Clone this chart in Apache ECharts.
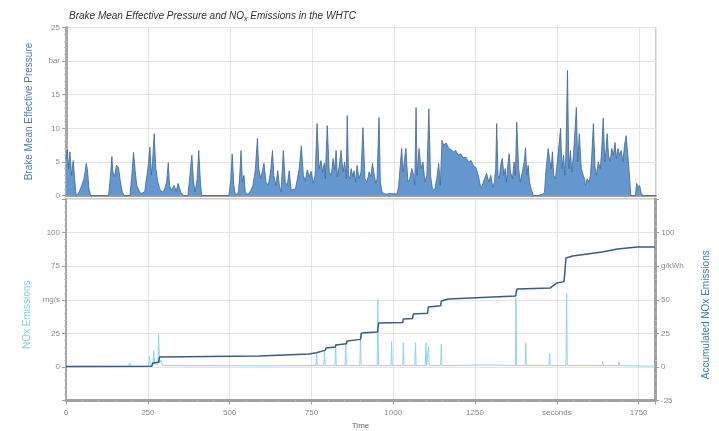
<!DOCTYPE html>
<html><head><meta charset="utf-8">
<script src="https://cdn.jsdelivr.net/npm/echarts@6/dist/echarts.min.js"></script>
<style>html,body{margin:0;padding:0;background:#fff}#c{width:719px;height:431px}</style>
</head><body><div id="c"></div>
<script>
// Brake Mean Effective Pressure (bar) vs time (s)
const bmepTime = [0,4,8,12,17,22,27,31,40,48,55,62,66,70,75,
  130,134,140,143,148,154,160,166,172,178,
  195,200,206,211,216,222,228,
  240,247,252,256,260,264,269,274,280,286,293,
  300,307,312,316,322,330,336,342,350,358,
  372,378,384,389,394,400,405,410,414,
  497,503,507,512,517,526,530,534,538,543,547,553,556,
  562,570,577,584,588,594,600,604,610,617,624,630,634,640,646,651,656,
  663,669,675,681,687,700,706,712,718,724,730,736,742,748,754,
  760,766,772,778,783,788,791,797,803,
  809,815,820,824,828,834,839,845,850,855,858,862,
  866,870,875,879,884,888,894,900,906,912,
  918,925,930,935,940,945,949,955,959,
  964,975,990,1010,1015,1019,1024,1028,1032,1037,1043,
  1049,1055,1061,1064,1068,1071,1077,1083,1089,1095,
  1101,1107,1112,1118,1125,1131,1137,1142,
  1147,1152,1160,1168,1175,1182,1189,1196,1204,1212,1220,1228,1236,1243,1250,1258,1265,1270,
  1277,1283,1290,1296,1302,1307,1311,1314,1318,1322,
  1326,1331,1336,1340,1344,1348,1352,1356,1362,1367,1371,1375,1381,1386,1392,
  1398,1402,1406,1410,1414,1418,1422,1426,1440,1455,1460,
  1463,1467,1471,1475,1480,1484,1488,1493,1499,1504,1509,1513,1518,1522,1525,1530,1534,
  1539,1543,1548,1552,1557,1561,1566,1572,1578,1582,1585,1590,1596,1600,
  1604,1609,1614,1618,1624,1630,1634,1639,1644,1648,1651,1655,1660,
  1665,1670,1675,1679,1684,1689,1694,1699,1704,1709,1714,1719,1723,
  1737,1741,1746,1750,1755,1760,1800];
const bmepValue = [5.5,6.8,4,6.5,3,5.2,2,0,0.5,1.5,2.5,4.8,3.5,1,0,
  0,2,5.8,3.5,2.8,4.5,4.2,2,0.5,0,
  0,2.5,6.4,3.7,1.5,0.8,0.3,
  0.5,3,5,7.2,3,5,9.2,4,2,1,0.5,
  0.8,2,4.9,1.5,0.8,1.5,0.6,1.8,0.5,0,
  0,3,6,2,0.5,2.5,6.7,2,0,
  0,2.5,6.2,1.5,0,0.5,3,6.7,2,3,0.5,0.2,0.3,
  0.5,1.5,3.5,8.5,4,2.5,3.8,4.8,2,1.5,3.5,6.7,3,1.5,3.7,1.5,0.5,
  6.7,2,1.5,3.7,0.8,1,2.5,4.2,7.4,3,2.2,3.8,2.8,3.6,1.8,
  3,10.7,4,5.2,3.5,4.8,2.5,10.4,3.5,
  3,5.5,3.8,6.7,2.8,4.5,6.7,3.5,5,2.5,11.9,3,
  2.5,4,2.8,3.7,2,4.5,2.5,3.5,10.1,2.5,
  2,3.5,2.8,4.8,3.2,1.8,2.5,11.6,2,
  0.5,0.2,0.3,0.2,1.5,4,7,3.5,5,7,2,
  2.5,4,3,1.5,13.1,3,7,4,5,2,
  3,12.9,3,1,0.8,2.5,4.8,1.5,
  8.2,7.5,7.8,7,6.8,6.5,6.7,6,6.2,5.6,5.7,5,5.2,4.4,4.2,3,1.2,1.5,
  2.5,3.3,2,3,1.2,2,4,10.7,3,2.5,
  4.5,5.5,3,4,2,4.5,6.2,3.5,2.5,5,3,10.9,4,2,3.5,
  5,7.1,3,4.5,2,1.2,0.5,0,0,0.2,0.5,
  3,5,7,5.5,4,6.5,3,2.5,5,7.5,10,4,6,3,6,18.6,4,
  6.7,3.5,6,9,13.1,5,9.2,4,3,2.5,1.5,2.5,2,3,
  6,10.7,4.2,3,5,4,6.5,11.5,5,7,9.2,6,5,
  7,6,7.9,5.5,7,6,6.7,5,7.5,8.9,6,3,0,
  0,1.8,1.2,1.5,0.3,0,0];
// NOx emission rate spikes (left axis, bottom panel)
const noxTime = [0,190,195,198,252,255,258,266,268,271,281,283,286,290,295,600,
  764,766,768,788,790,792,822,824,826,853,855,857,898,900,902,951,953,955,
  993,995,997,1029,1031,1033,1066,1068,1070,1098,1100,1102,1106,1108,1110,
  1145,1147,1149,1300,1373,1375,1377,1403,1405,1407,1476,1478,1480,
  1528,1530,1532,1638,1640,1642,1688,1690,1692,1800];
const noxValue = [0.3,0.5,3,0.5,0.5,8,1,1,12,2,2,24,3,5,1,0.8,
  1,10,1,1,12,1,1,17,1,1,18,1,1,25,1,1,50,1,
  1,19,1,1,18,1,1,18,1,1,18,1,1,15,1,
  1,17,1,1.5,1,51,1,1,18,1,1,10,1,
  1,55,1,1,4,1,1,4,1,0.5];
// Accumulated NOx (right axis, bottom panel)
const cumTime = [0,262,265,283,286,590,742,765,767,793,795,823,825,857,859,900,903,952,955,
  1029,1031,1059,1061,1105,1107,1145,1147,1168,1374,1378,1480,1500,1522,1528,1548,1639,1685,1746,1800];
const cumValue = [0.3,0.5,3,3.5,7.4,8.2,9.7,10.5,11.9,12.5,14.1,14.8,16.4,17.2,19.3,20.5,25.3,26,32.7,
  33,35.7,36,39.4,40,44.6,45.5,49.1,50.6,52.8,58,58.8,62.5,63.5,81.1,82.6,85.6,87.8,89.3,89.3];
const xTicks = [0,250,500,750,1000,1250,1500,1750];
const xTickLabels = ['0','250','500','750','1000','1250','seconds','1750'];

const zip = (a,b) => a.map((t,i) => [t,b[i]]);
const labelCol = '#8a8a8a';
const gridCol = '#e4e4e4';
const font = 'Liberation Sans';

const xLab = v => { const i = xTicks.indexOf(v); return i >= 0 ? xTickLabels[i] : ''; };

const chart = echarts.init(document.getElementById('c'), null, {renderer:'canvas'});
chart.setOption({
  animation: false,
  backgroundColor: '#fff',
  textStyle: {fontFamily: font},
  title: {
    text: '{t|Brake Mean Effective Pressure and NO}{s|x}{t| Emissions in the WHTC}',
    left: 64, top: 5,
    textStyle: {rich: {
      t: {fontSize: 10, fontStyle: 'italic', fontWeight: 'normal', color: '#333', fontFamily: font},
      s: {fontSize: 7, fontStyle: 'italic', fontWeight: 'normal', color: '#333', fontFamily: font, verticalAlign: 'bottom', padding: [6,0,0,0]}
    }}
  },
  grid: [
    {left: 66, right: 63, top: 27.5, height: 168, show: true, borderColor: '#9a9a9a', borderWidth: 1},
    {left: 66, right: 63, top: 199, height: 201.5, show: true, borderColor: '#9a9a9a', borderWidth: 1}
  ],
  xAxis: [
    {gridIndex: 0, type: 'value', min: 0, max: 1800, interval: 250,
     axisLine: {onZero: false, lineStyle: {color: '#a0a0a0', width: 2}},
     axisTick: {show: false}, axisLabel: {show: false},
     minorTick: {show: false},
     splitLine: {show: true, lineStyle: {color: gridCol, width: 1}}},
    {gridIndex: 1, type: 'value', min: 0, max: 1800, interval: 250,
     name: 'Time', nameLocation: 'middle', nameGap: 21,
     nameTextStyle: {fontSize: 8, color: '#666'},
     axisLine: {onZero: false, lineStyle: {color: '#a0a0a0', width: 3}},
     axisTick: {show: true, length: 4, lineStyle: {color: '#a0a0a0'}},
     minorTick: {show: true, splitNumber: 5, length: 2, lineStyle: {color: '#c0c0c0'}},
     axisLabel: {fontSize: 8, color: labelCol, margin: 8, formatter: xLab},
     splitLine: {show: true, lineStyle: {color: gridCol, width: 1}}}
  ],
  yAxis: [
    {gridIndex: 0, type: 'value', min: 0, max: 25, interval: 5,
     name: 'Brake Mean Effective Pressure', nameLocation: 'middle', nameGap: 32, nameRotate: 90,
     nameTextStyle: {fontSize: 10, color: '#4a7fb5'},
     axisLine: {show: true, lineStyle: {color: '#a8a8a8', width: 3}},
     axisTick: {show: true, length: 4, lineStyle: {color: '#a0a0a0'}},
     minorTick: {show: true, splitNumber: 5, length: 2, lineStyle: {color: '#c0c0c0'}},
     axisLabel: {fontSize: 8, color: labelCol, margin: 6, formatter: v => v === 20 ? 'bar' : String(v)},
     splitLine: {show: true, lineStyle: {color: gridCol, width: 1}}},
    {gridIndex: 1, type: 'value', min: -25, max: 125, interval: 25,
     name: 'NOx Emissions', nameLocation: 'middle', nameGap: 29, nameRotate: 90,
     nameTextStyle: {fontSize: 10, color: '#86cfe8', padding: [0,30,0,0]},
     axisLine: {show: true, onZero: false, lineStyle: {color: '#a8a8a8', width: 2}},
     axisTick: {show: true, length: 4, lineStyle: {color: '#a0a0a0'}},
     minorTick: {show: true, splitNumber: 5, length: 2, lineStyle: {color: '#c0c0c0'}},
     axisLabel: {fontSize: 8, color: labelCol, margin: 6,
       formatter: v => (v === -25 || v === 125) ? '' : (v === 50 ? 'mg/s' : String(v))},
     splitLine: {show: true, lineStyle: {color: gridCol, width: 1}}},
    {gridIndex: 1, type: 'value', min: -25, max: 125, interval: 25, position: 'right',
     name: 'Accumulated NOx Emissions', nameLocation: 'middle', nameGap: 46, nameRotate: 90,
     nameTextStyle: {fontSize: 10, color: '#3f7fb8', padding: [0,30,0,0]},
     axisLine: {show: true, onZero: false, lineStyle: {color: '#a0a0a0', width: 3}},
     axisTick: {show: true, length: 4, lineStyle: {color: '#a0a0a0'}},
     minorTick: {show: true, splitNumber: 5, length: 2, lineStyle: {color: '#c0c0c0'}},
     axisLabel: {fontSize: 8, color: labelCol, margin: 6,
       formatter: v => v === 125 ? '' : (v === 75 ? 'g/kWh' : String(v))},
     splitLine: {show: false}}
  ],
  series: [
    {type: 'line', xAxisIndex: 0, yAxisIndex: 0, data: zip(bmepTime, bmepValue),
     symbol: 'none', lineStyle: {color: '#3c6796', width: 0.8},
     areaStyle: {color: '#6597cf', opacity: 1}},
    {type: 'line', xAxisIndex: 1, yAxisIndex: 1, data: zip(noxTime, noxValue),
     symbol: 'none', lineStyle: {color: '#8fd4ee', width: 1}},
    {type: 'line', xAxisIndex: 1, yAxisIndex: 2, data: zip(cumTime, cumValue),
     symbol: 'none', lineStyle: {color: '#3b5b85', width: 1.5}}
  ]
});
</script></body></html>
